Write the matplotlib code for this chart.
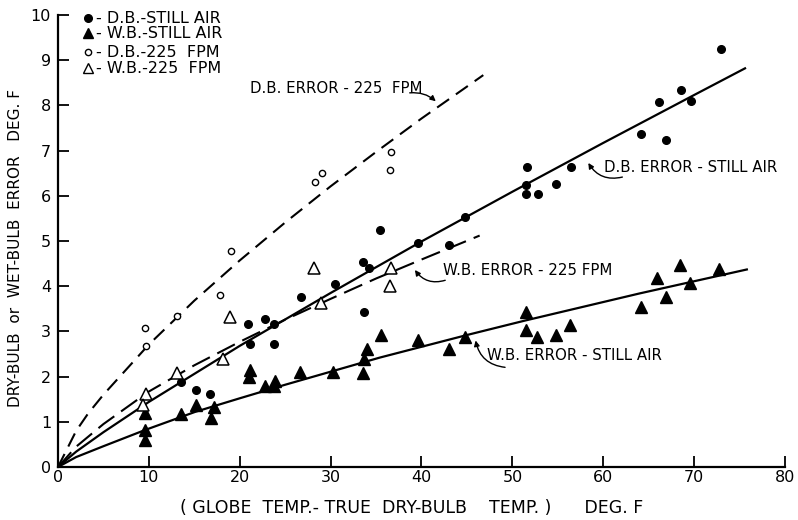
import matplotlib
matplotlib.use("Agg")
import matplotlib.pyplot as plt

# ---- data (deg F) ----
db_still_x = [13.5, 15.2, 16.7, 20.9, 22.8, 21.1, 23.8, 23.8, 26.7, 30.5, 33.7, 33.6, 34.2, 35.4,
              39.6, 43.0, 44.8, 51.6, 51.5, 51.5, 52.8, 54.8, 56.5, 64.1, 66.9, 66.1, 68.6, 69.7, 73.0]
db_still_y = [1.87, 1.71, 1.62, 3.16, 3.27, 2.73, 3.16, 2.73, 3.76, 4.04, 3.42, 4.53, 4.40, 5.24,
              4.96, 4.91, 5.53, 6.64, 6.24, 6.04, 6.04, 6.27, 6.64, 7.36, 7.24, 8.07, 8.35, 8.09, 9.24]

wb_still_x = [9.6, 9.6, 9.6, 13.5, 15.2, 16.8, 17.2, 21.0, 21.1, 22.8, 23.8, 23.9, 26.6, 30.3, 33.6,
              33.7, 34.0, 35.5, 39.6, 43.0, 44.8, 51.5, 51.5, 52.7, 54.8, 56.3, 64.1, 65.9, 66.9,
              68.5, 69.6, 72.7]
wb_still_y = [1.2, 0.82, 0.6, 1.18, 1.38, 1.09, 1.32, 2.0, 2.15, 1.8, 1.8, 1.9, 2.1, 2.1, 2.07,
              2.38, 2.62, 2.92, 2.8, 2.62, 2.88, 3.42, 3.04, 2.88, 2.91, 3.15, 3.55, 4.19, 3.77,
              4.46, 4.08, 4.37]

db_225_x = [9.6, 9.7, 13.1, 17.8, 19.0, 28.3, 29.0, 36.6, 36.5]
db_225_y = [3.08, 2.68, 3.33, 3.80, 4.77, 6.30, 6.50, 6.98, 6.58]

wb_225_x = [9.7, 9.4, 13.1, 18.2, 18.9, 28.2, 28.9, 36.6, 36.5]
wb_225_y = [1.62, 1.37, 2.09, 2.40, 3.31, 4.40, 3.62, 4.40, 4.00]

# fitted curves as drawn on the chart
db_still_fit_x = [0, 2, 5, 10, 20, 30, 40, 50, 60, 70, 75.6]
db_still_fit_y = [0, 0.34, 0.77, 1.44, 2.68, 3.85, 4.99, 6.09, 7.17, 8.23, 8.82]
wb_still_fit_x = [0, 2, 5, 9.6, 15.1, 20, 25, 35.4, 45, 51.4, 64, 75.8]
wb_still_fit_y = [0, 0.22, 0.46, 0.82, 1.22, 1.52, 1.82, 2.42, 2.92, 3.24, 3.84, 4.37]
db_225_fit_x = [0, 2, 3.3, 5, 10, 15, 20, 25, 30, 35, 40, 46.8]
db_225_fit_y = [0, 0.80, 1.18, 1.60, 2.71, 3.68, 4.57, 5.41, 6.21, 6.97, 7.71, 8.67]
wb_225_fit_x = [0, 2, 5, 10, 15, 20, 25, 30, 35, 40, 46.4]
wb_225_fit_y = [0, 0.45, 0.95, 1.67, 2.25, 2.77, 3.26, 3.72, 4.17, 4.59, 5.12]

x_ticks = [0, 10, 20, 30, 40, 50, 60, 70, 80]
y_ticks = [0, 1, 2, 3, 4, 5, 6, 7, 8, 9, 10]

plt.rcParams["font.family"] = ["DejaVu Sans"]
fig = plt.figure(figsize=(7.98, 5.2), dpi=100)
ax = fig.add_axes([58/798, 1-467/520, 727/798, 452/520])

k = "black"
ax.plot(db_still_fit_x, db_still_fit_y, "-", color=k, lw=1.6)
ax.plot(wb_still_fit_x, wb_still_fit_y, "-", color=k, lw=1.6)
ax.plot(db_225_fit_x, db_225_fit_y, color=k, lw=1.5, dashes=(7, 4))
ax.plot(wb_225_fit_x, wb_225_fit_y, color=k, lw=1.5, dashes=(9.5, 4))

ax.plot(db_still_x, db_still_y, "o", color=k, ms=5.5, ls="none")
ax.plot(wb_still_x, wb_still_y, "^", color=k, ms=8, ls="none")
ax.plot(db_225_x, db_225_y, "o", mfc="white", mec=k, mew=1.0, ms=4.5, ls="none")
ax.plot(wb_225_x, wb_225_y, "^", mfc="white", mec=k, mew=1.1, ms=8, ls="none")

# legend drawn by hand, top-left
leg = [("o", k, 5.5, "- D.B.-STILL AIR", 9.93),
       ("^", k, 7.5, "- W.B.-STILL AIR", 9.6),
       ("o", "white", 4.5, "- D.B.-225  FPM", 9.18),
       ("^", "white", 7.5, "- W.B.-225  FPM", 8.82)]
for m, fc, ms, lab, yy in leg:
    ax.plot([3.3], [yy], m, mfc=fc, mec=k, ms=ms, mew=1.0, clip_on=False)
    ax.text(4.2, yy, lab, fontsize=11.5, va="center", ha="left")

# curve labels with curved arrows
notes = [("D.B. ERROR - 225  FPM", (21.1, 8.38), (38.4, 8.27), (41.8, 8.05), -0.25),
         ("D.B. ERROR - STILL AIR", (60.1, 6.63), (62.4, 6.43), (58.2, 6.78), -0.4),
         ("W.B. ERROR - 225 FPM", (42.4, 4.35), (42.9, 4.15), (39.1, 4.41), -0.4),
         ("W.B. ERROR - STILL AIR", (47.2, 2.46), (49.5, 2.2), (45.9, 2.86), -0.4)]
for lab, tpos, tail, head, rad in notes:
    ax.text(tpos[0], tpos[1], lab, fontsize=10.8, va="center", ha="left")
    ax.annotate("", xy=head, xytext=tail,
                arrowprops=dict(arrowstyle="-|>", color=k, lw=1.0, mutation_scale=8,
                                connectionstyle=f"arc3,rad={rad}"))

ax.set_xlim(0, 80)
ax.set_ylim(0, 10)
ax.set_xticks(x_ticks)
ax.set_yticks(y_ticks)
ax.set_xticklabels([str(v) for v in x_ticks], fontsize=11.5)
ax.set_yticklabels([str(v) for v in y_ticks], fontsize=11.5)
ax.tick_params(direction="in", length=8, width=1.3, colors=k)
ax.tick_params(axis="x", pad=2)
ax.tick_params(axis="y", pad=5)
for s in ["top", "right"]:
    ax.spines[s].set_visible(False)
for s in ["left", "bottom"]:
    ax.spines[s].set_linewidth(1.6)

fig.text(412/798, 1-508/520, "( GLOBE  TEMP.- TRUE  DRY-BULB    TEMP. )      DEG. F",
         fontsize=12.5, ha="center", va="center")
fig.text(16/798, 1-248/520, "DRY-BULB  or  WET-BULB  ERROR   DEG. F",
         fontsize=11, ha="center", va="center", rotation=90)

fig.savefig("out.png", dpi=100)
